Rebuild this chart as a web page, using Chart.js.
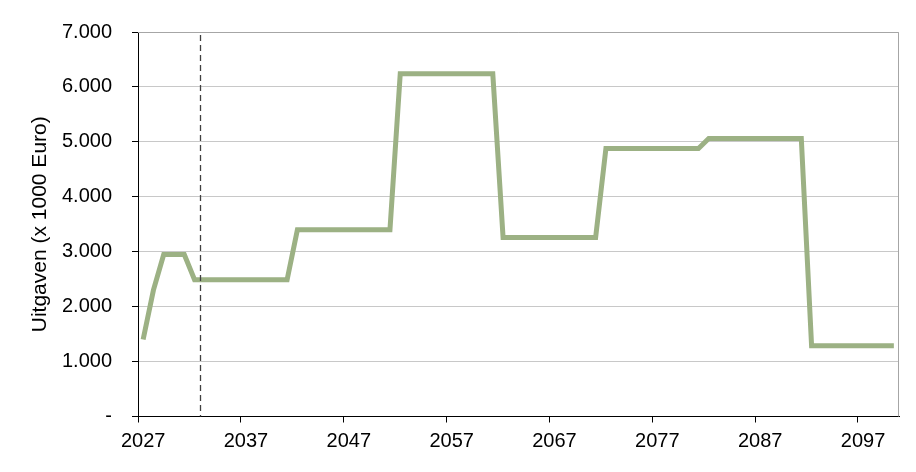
<!DOCTYPE html>
<html>
<head>
<meta charset="utf-8">
<script src="https://cdn.jsdelivr.net/npm/chart.js@4.4.0/dist/chart.umd.min.js"></script>
<style>
  html, body { margin: 0; padding: 0; background: #ffffff; }
  #wrap { width: 916px; height: 472px; position: relative; }
</style>
</head>
<body>
<div id="wrap"><canvas id="c"></canvas></div>
<script>
const years = [
  2027, 2028, 2029, 2030, 2031, 2032, 2033, 2034, 2035, 2036,
  2037, 2038, 2039, 2040, 2041, 2042, 2043, 2044, 2045, 2046,
  2047, 2048, 2049, 2050, 2051, 2052, 2053, 2054, 2055, 2056,
  2057, 2058, 2059, 2060, 2061, 2062, 2063, 2064, 2065, 2066,
  2067, 2068, 2069, 2070, 2071, 2072, 2073, 2074, 2075, 2076,
  2077, 2078, 2079, 2080, 2081, 2082, 2083, 2084, 2085, 2086,
  2087, 2088, 2089, 2090, 2091, 2092, 2093, 2094, 2095, 2096,
  2097, 2098, 2099, 2100
];

const uitgaven = [
  1400, 2300, 2950, 2950, 2950, 2490, 2490, 2490, 2490, 2490,
  2490, 2490, 2490, 2490, 2490, 3400, 3400, 3400, 3400, 3400,
  3400, 3400, 3400, 3400, 3400, 6240, 6240, 6240, 6240, 6240,
  6240, 6240, 6240, 6240, 6240, 3260, 3260, 3260, 3260, 3260,
  3260, 3260, 3260, 3260, 3260, 4880, 4880, 4880, 4880, 4880,
  4880, 4880, 4880, 4880, 4880, 5060, 5060, 5060, 5060, 5060,
  5060, 5060, 5060, 5060, 5060, 1290, 1290, 1290, 1290, 1290,
  1290, 1290, 1290, 1290
];

const yTicks = [0, 1000, 2000, 3000, 4000, 5000, 6000, 7000];
const yTickLabels = ['-', '1.000', '2.000', '3.000', '4.000', '5.000', '6.000', '7.000'];
const xLabelEvery = 10;
const markerBetween = [2032, 2033];
const yTitle = 'Uitgaven (x 1000 Euro)';

const FONT = "'Liberation Sans', Arial, sans-serif";

const framePlugin = {
  id: 'frame',
  beforeDatasetsDraw(chart) {
    const { ctx, chartArea: a } = chart;
    ctx.save();
    ctx.strokeStyle = '#a6a6a6';
    ctx.lineWidth = 1;
    ctx.beginPath();
    ctx.moveTo(a.left, a.top + 0.5);
    ctx.lineTo(a.right - 0.5, a.top + 0.5);
    ctx.lineTo(a.right - 0.5, a.bottom);
    ctx.stroke();
    ctx.restore();
  }
};

const markerPlugin = {
  id: 'marker',
  afterDatasetsDraw(chart) {
    const { ctx, chartArea: a, scales } = chart;
    const x0 = scales.x.getPixelForValue(years.indexOf(markerBetween[0]));
    const x1 = scales.x.getPixelForValue(years.indexOf(markerBetween[1]));
    const x = Math.round((x0 + x1) / 2) + 0.5;
    ctx.save();
    ctx.strokeStyle = '#404040';
    ctx.lineWidth = 1.3;
    ctx.setLineDash([6, 4]);
    ctx.beginPath();
    ctx.moveTo(x, a.top + 3);
    ctx.lineTo(x, a.bottom);
    ctx.stroke();
    ctx.restore();
  }
};

new Chart(document.getElementById('c'), {
  type: 'line',
  data: {
    labels: years,
    datasets: [{
      data: uitgaven,
      borderColor: '#9cb184',
      borderWidth: 5,
      pointRadius: 0,
      tension: 0,
      fill: false,
      borderJoinStyle: 'miter',
      borderCapStyle: 'butt'
    }]
  },
  options: {
    responsive: true,
    maintainAspectRatio: false,
    animation: false,
    devicePixelRatio: 1,
    layout: { padding: { top: 29.5, right: 17, left: 0, bottom: 0 } },
    plugins: {
      legend: { display: false },
      tooltip: { enabled: false }
    },
    scales: {
      x: {
        type: 'category',
        offset: true,
        grid: {
          offset: true,
          drawOnChartArea: false,
          drawTicks: true,
          tickLength: 6,
          tickColor: (c) => (c.index % xLabelEvery === 0 && c.index < years.length) ? '#000000' : 'rgba(0,0,0,0)',
          tickWidth: 1
        },
        border: { color: '#000000', width: 1 },
        ticks: {
          autoSkip: false,
          maxRotation: 0,
          minRotation: 0,
          padding: 7,
          color: '#000000',
          font: { family: FONT, size: 20 },
          callback: (v, i) => (i % xLabelEvery === 0) ? String(years[i]) : ''
        },
        afterFit: (s) => { s.height = 55.5; }
      },
      y: {
        min: 0,
        max: 7000,
        afterBuildTicks: (s) => { s.ticks = yTicks.map(v => ({ value: v })); },
        grid: {
          color: (c) => (c.tick && c.tick.value === 0) ? 'rgba(0,0,0,0)' : '#c8c8c8',
          lineWidth: 1,
          drawTicks: true,
          tickLength: 6,
          tickColor: '#000000'
        },
        border: { color: '#000000', width: 1 },
        ticks: {
          padding: 20,
          color: '#000000',
          font: { family: FONT, size: 20 },
          callback: (v) => yTickLabels[yTicks.indexOf(v)]
        },
        title: {
          display: true,
          text: yTitle,
          color: '#000000',
          font: { family: FONT, size: 21 },
          padding: { top: 28, bottom: 0 }
        },
        afterFit: (s) => { s.width = 138; }
      }
    }
  },
  plugins: [framePlugin, markerPlugin]
});
</script>
</body>
</html>
